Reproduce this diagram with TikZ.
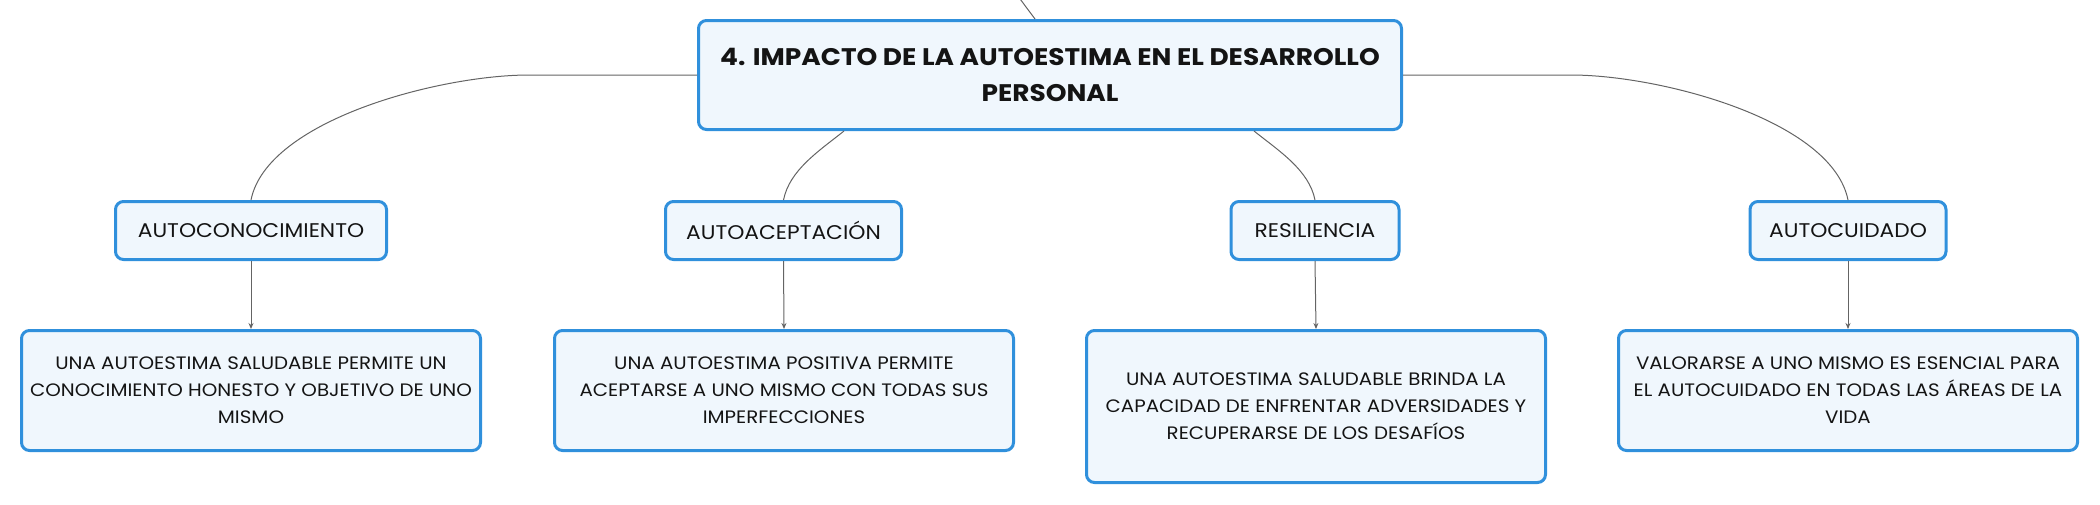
\documentclass[tikz,border=0pt]{standalone}
\usepackage{fontspec}
\setmainfont{Poppins}[FakeStretch=1.1]
\usetikzlibrary{arrows.meta}
\definecolor{boxblue}{RGB}{48,144,220}
\definecolor{boxfill}{RGB}{240,247,253}
\definecolor{linkgray}{RGB}{100,100,100}
\definecolor{textblack}{RGB}{20,20,20}
\begin{document}
\begin{tikzpicture}[x=0.5pt,y=-0.5pt,
  box/.style={draw=boxblue,fill=boxfill,line width=1.5pt,rounded corners=4pt,align=center,text=textblack,inner sep=0pt},
  topic/.style={box,minimum width=351.5pt,minimum height=54.5pt,font=\bfseries\fontsize{12}{18}\selectfont},
  branch/.style={box,minimum width=#1,minimum height=29pt,font=\fontsize{9.9}{13.5}\selectfont},
  leaf/.style={box,minimum width=229.5pt,minimum height=#1,font=\fontsize{9}{13.5}\selectfont},
  link/.style={draw=linkgray,line width=0.5pt},
  arrowlink/.style={link,-{Stealth[length=3pt,width=2.5pt]}}]
% Parameters
\def\branchY{230.5}
\def\leafY{390.5}
\def\leafH{60pt}

\useasboundingbox (0,0) rectangle (2100,504);

% Central topic
\node[topic] (main) at (1050,75) {4. IMPACTO DE LA AUTOESTIMA EN EL DESARROLLO\\PERSONAL};
\coordinate (parent) at (1003,-25);
\draw[link] ([xshift=-7.5pt]main.north) .. controls +(-6,-8) and +(8,12) .. (parent);

% Branches
\node[branch=135.5pt] (conoc) at (251,\branchY) {AUTOCONOCIMIENTO};
\node[branch=118pt] (acept) at (783.5,\branchY) {AUTOACEPTACIÓN};
\node[branch=84pt] (resil) at (1315,\branchY) {RESILIENCIA};
\node[branch=98pt] (cuida) at (1848,\branchY) {AUTOCUIDADO};

\draw[link] (main.west) -- ++(-168,0) .. controls +(-89,0) and +(16,-80) .. (conoc.north);
\draw[link] ([xshift=-103pt]main.south) .. controls +(-25,20) and +(6,-30) .. (acept.north);
\draw[link] ([xshift=102pt]main.south) .. controls +(25,20) and +(-6,-30) .. (resil.north);
\draw[link] (main.east) -- ++(168,0) .. controls +(89,0) and +(-16,-80) .. (cuida.north);

% Leaves
\node[leaf=\leafH] (conocT) at (251,\leafY) {UNA AUTOESTIMA SALUDABLE PERMITE UN\\CONOCIMIENTO HONESTO Y OBJETIVO DE UNO\\MISMO};
\node[leaf=\leafH] (aceptT) at (784,\leafY) {UNA AUTOESTIMA POSITIVA PERMITE\\ACEPTARSE A UNO MISMO CON TODAS SUS\\IMPERFECCIONES};
\node[leaf=76pt] (resilT) at (1316,406.5) {UNA AUTOESTIMA SALUDABLE BRINDA LA\\CAPACIDAD DE ENFRENTAR ADVERSIDADES Y\\RECUPERARSE DE LOS DESAFÍOS};
\node[leaf=\leafH] (cuidaT) at (1848,\leafY) {VALORARSE A UNO MISMO ES ESENCIAL PARA\\EL AUTOCUIDADO EN TODAS LAS ÁREAS DE LA\\VIDA};

\draw[arrowlink] (conoc.south) -- (conocT.north);
\draw[arrowlink] (acept.south) -- (aceptT.north);
\draw[arrowlink] (resil.south) -- (resilT.north);
\draw[arrowlink] (cuida.south) -- (cuidaT.north);
\end{tikzpicture}
\end{document}
